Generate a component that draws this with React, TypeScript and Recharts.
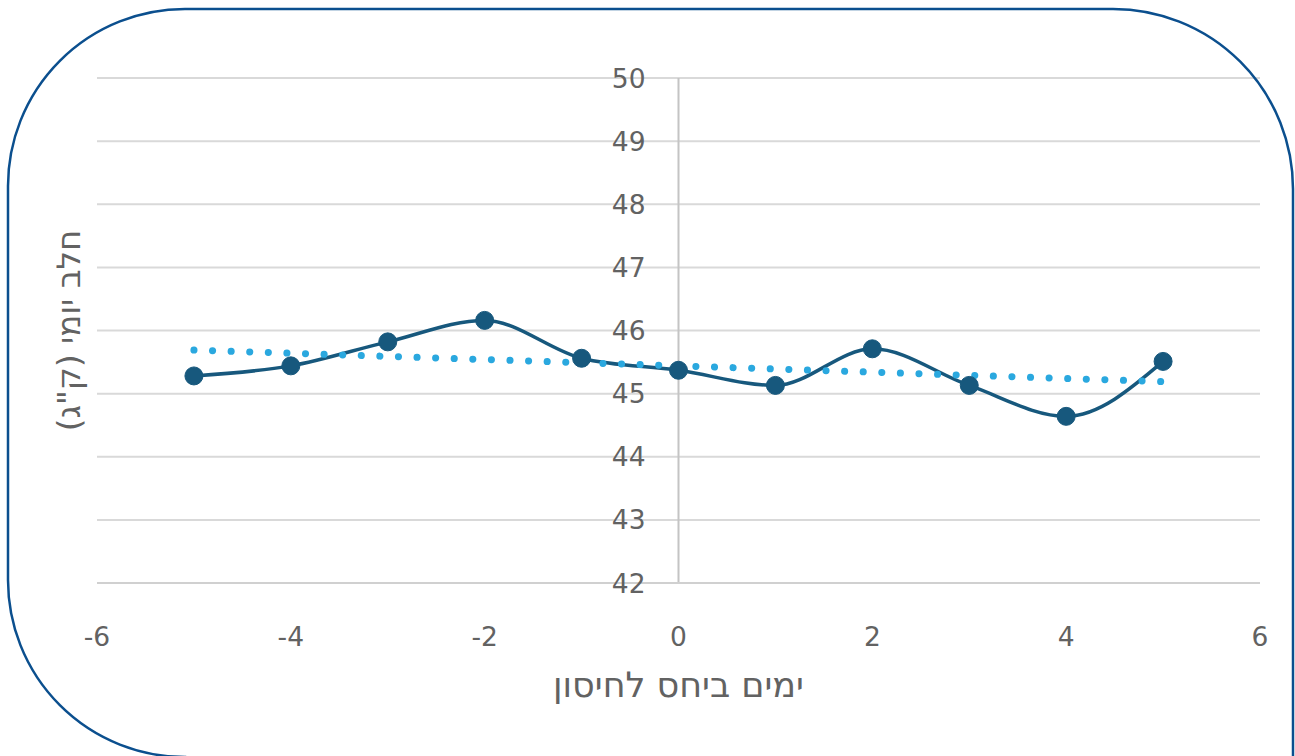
import { LineChart, Line, XAxis, YAxis, CartesianGrid, ReferenceLine } from 'recharts'

const days = [-5, -4, -3, -2, -1, 0, 1, 2, 3, 4, 5]
const milk = [45.28, 45.44, 45.82, 46.16, 45.56, 45.37, 45.13, 45.71, 45.13, 44.64, 45.51]
const trendDays = [-5, 5]
const trendMilk = [45.69, 45.19]
const xTicks = [-6, -4, -2, 0, 2, 4, 6]
const yTicks = [42, 43, 44, 45, 46, 47, 48, 49, 50]

const X_TITLE = 'ימים ביחס לחיסון'
const Y_TITLE = 'חלב יומי (ק"ג)'

const W = 1295
const H = 756
const PLOT_LEFT = 97
const PLOT_RIGHT = 1260
const FONT = '"DejaVu Sans", Verdana, sans-serif'
const TEXT = '#626262'

const data = days.map((d, i) => ({ day: d, milk: milk[i] }))
const trend = trendDays.map((d, i) => ({ day: d, milk: trendMilk[i] }))

// y labels sit next to the x=0 axis, like Excel does it
function YTick({ y, payload }: any) {
  const x = (PLOT_LEFT + PLOT_RIGHT) / 2 - 33
  return (
    <text x={x} y={y} textAnchor="end" dominantBaseline="central" fontSize={26.5} fill={TEXT} fontFamily={FONT}>
      {payload.value}
    </text>
  )
}

function YTitle({ viewBox }: any) {
  const cx = 69
  const cy = viewBox.y + viewBox.height / 2
  return (
    <text x={cx} y={cy} transform={`rotate(-90 ${cx} ${cy})`} textAnchor="middle" dominantBaseline="central"
      direction="rtl" fontSize={32.5} fill={TEXT} fontFamily={FONT}>
      {Y_TITLE}
    </text>
  )
}

function XTitle({ viewBox }: any) {
  const cx = viewBox.x + viewBox.width / 2
  return (
    <text x={cx} y={685} textAnchor="middle" dominantBaseline="central" direction="rtl"
      fontSize={35} fill={TEXT} fontFamily={FONT}>
      {X_TITLE}
    </text>
  )
}

export default function App() {
  return (
    <div style={{ position: 'absolute', left: 0, top: 0, width: W, height: H, background: '#fff', overflow: 'hidden' }}>
      <LineChart width={W} height={H} margin={{ top: 78, right: W - PLOT_RIGHT, left: 0, bottom: 0 }}>
        <CartesianGrid vertical={false} stroke="#d9d9d9" strokeWidth={2} />
        <XAxis type="number" dataKey="day" domain={[-6, 6]} ticks={xTicks} height={173}
          axisLine={{ stroke: '#d0d0d0', strokeWidth: 2 }} tickLine={false} tickMargin={38}
          tick={{ fontSize: 26.5, fill: TEXT, fontFamily: FONT }} label={<XTitle />} />
        <YAxis type="number" domain={[42, 50]} ticks={yTicks} width={PLOT_LEFT} axisLine={false}
          tickLine={false} tick={<YTick />} label={<YTitle />} />
        <ReferenceLine x={0} stroke="#c4c4c4" strokeWidth={2} />
        <Line data={data} dataKey="milk" type="monotone" stroke="#17587d" strokeWidth={3.5}
          dot={{ r: 9, fill: '#17587d', stroke: '#17587d', strokeWidth: 1 }} activeDot={false}
          isAnimationActive={false} />
        <Line data={trend} dataKey="milk" type="linear" stroke="#2aa8df" strokeWidth={7}
          strokeDasharray="0.1 18.5" strokeLinecap="round" dot={false} activeDot={false}
          isAnimationActive={false} />
      </LineChart>
      <svg width={W} height={H} style={{ position: 'absolute', left: 0, top: 0, pointerEvents: 'none' }}>
        <path d="M 185 9 L 1113 9 A 180 180 0 0 1 1293 189 L 1293 770 L 185 770 L 185 757 A 177 177 0 0 1 8 580 L 8 186 A 177 177 0 0 1 185 9 Z"
          fill="none" stroke="#0b4f8e" strokeWidth={2.5} />
      </svg>
    </div>
  )
}
